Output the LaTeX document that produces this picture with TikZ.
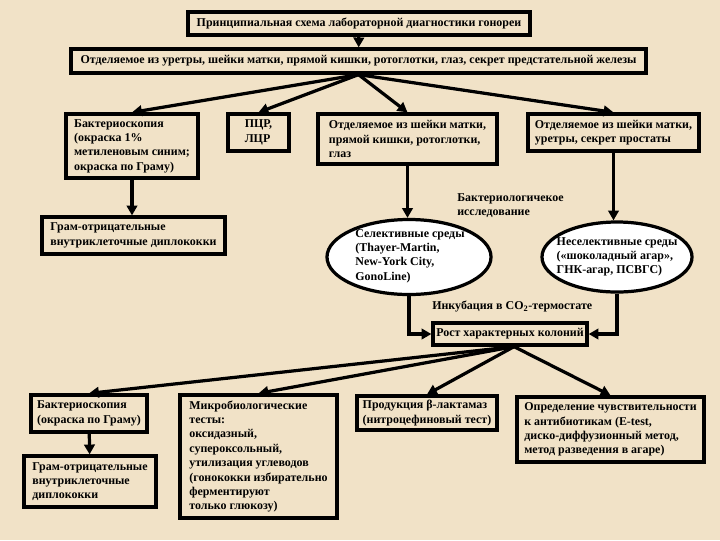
\documentclass[tikz,border=0pt]{standalone}
\usepackage{fontspec}
\setmainfont{Liberation Serif}
\usetikzlibrary{shapes.geometric,arrows.meta}
\definecolor{bg}{RGB}{241,226,199}
\begin{document}
\begin{tikzpicture}[x=0.025cm,y=-0.025cm,
  every node/.style={font=\fontsize{8.5}{10.2}\selectfont\bfseries},
  box/.style={draw, line width=2.3pt, inner xsep=2pt, inner ysep=0pt, align=left},
  cbox/.style={draw, line width=2.3pt, inner sep=0pt, align=center},
  oval/.style={draw, ellipse, fill=white, line width=2.3pt, inner sep=0pt},
  lbl/.style={inner sep=0pt, align=left},
  arr/.style={line width=2.3pt, -{Triangle[length=7pt,width=7.5pt]}}]
\fill[bg] (0,0) rectangle (720,540);
\useasboundingbox (0,0) rectangle (720,540);

\node[cbox, minimum width=8.55cm, minimum height=0.575cm] (title) at (359,23.5) {Принципиальная схема лабораторной диагностики гонореи};
\node[cbox, minimum width=14.375cm, minimum height=0.6cm] (src) at (358.5,61) {Отделяемое из уретры, шейки матки, прямой кишки, ротоглотки, глаз, секрет предстательной железы};

\node[box, minimum width=3.3cm, minimum height=1.6cm] (bak1) at (132,146) {Бактериоскопия\\(окраска 1\%\\метиленовым синим;\\окраска по Граму)};
\node[box, minimum width=1.525cm, minimum height=0.925cm] (pcr) at (258.5,132.5) {ПЦР,\\ЛЦР};
\node[box, minimum width=4.475cm, minimum height=1.25cm] (b3) at (407.5,139) {Отделяемое из шейки матки,\\прямой кишки, ротоглотки,\\глаз};
\node[box, minimum width=4.275cm, minimum height=0.925cm] (b4) at (613.5,132.5) {Отделяемое из шейки матки,\\уретры, секрет простаты};
\node[box, minimum width=4.575cm, minimum height=0.925cm] (gram1) at (133.5,235.5) {Грам-отрицательные\\внутриклеточные диплококки};

\node[oval, minimum width=4.1cm, minimum height=1.875cm] (ell1) at (409,257) {};
\node[lbl] (ell1t) at (410,256) {Селективные среды\\(Thayer-Martin,\\New-York City,\\GonoLine)};
\node[oval, minimum width=3.75cm, minimum height=1.75cm] (ell2) at (617,257) {};
\node[lbl] (ell2t) at (617,257) {Неселективные среды\\(«шоколадный агар»,\\ГНК-агар, ПСВГС)};

\node[lbl, anchor=north west] (lab1) at (457,193) {Бактериологичекое\\исследование};
\node[lbl, anchor=west] (lab2) at (432,307) {Инкубация в CO\textsubscript{2}-термостате};

\node[cbox, minimum width=3.85cm, minimum height=0.55cm] (rost) at (510,334) {Рост характерных колоний};

\node[box, minimum width=2.9cm, minimum height=0.925cm] (bak2) at (89,413.5) {Бактериоскопия\\(окраска по Граму)};
\node[box, minimum width=3.3cm, minimum height=1.275cm] (gram2) at (90,481.5) {Грам-отрицательные\\внутриклеточные\\диплококки};
\node[box, minimum width=3.925cm, minimum height=3.075cm] (micro) at (258.5,456.5) {Микробиологические\\тесты:\\оксидазный,\\супероксольный,\\утилизация углеводов\\(гонококки избирательно\\ферментируют\\только глюкозу)};
\node[box, minimum width=3.5cm, minimum height=0.85cm] (beta) at (427,413) {Продукция β-лактамаз\\(нитроцефиновый тест)};
\node[box, minimum width=4.675cm, minimum height=1.625cm] (sens) at (610.5,429.5) {Определение чувствительности\\к антибиотикам (E-test,\\диско-диффузионный метод,\\метод разведения в агаре)};

\draw[arr] (title) -- (src);
\draw[arr] (src.south) -- (bak1.north);
\draw[arr] (src.south) -- (pcr.north);
\draw[arr] (src.south) -- (b3.north);
\draw[arr] (src.south) -- (b4.north);
\draw[arr] (bak1.south) -- (bak1.south |- gram1.north);
\draw[arr] (b3.south) -- (b3.south |- ell1.north);
\draw[arr] (b4.south) -- (b4.south |- ell2.north);
\draw[arr] (ell1.south) |- (rost.west);
\draw[arr] (ell2.south) |- (rost.east);
\coordinate (apex) at ([xshift=0.1cm]rost.south);
\draw[arr] (apex) -- (bak2.north);
\draw[arr] (apex) -- (micro.north);
\draw[arr] (apex) -- (beta.north);
\draw[arr] (apex) -- (sens.north);
\draw[arr] (bak2) -- (gram2);
\end{tikzpicture}
\end{document}
